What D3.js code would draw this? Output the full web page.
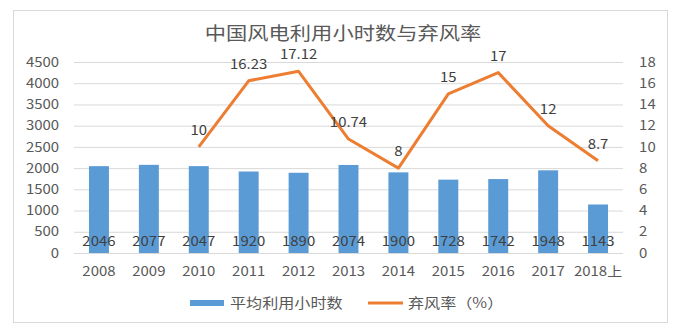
<!DOCTYPE html>
<html>
<head>
<meta charset="utf-8">
<script src="https://cdn.jsdelivr.net/npm/d3@7"></script>
<style>
  html, body { margin: 0; padding: 0; background: #fff; }
  svg text { font-family: "Noto Sans CJK SC", "Liberation Sans", sans-serif; }
</style>
</head>
<body>
<svg id="chart" width="680" height="330"></svg>
<script>
// Years on the category axis
const years = ["2008", "2009", "2010", "2011", "2012", "2013", "2014", "2015", "2016", "2017", "2018上"];
// Average utilisation hours (left axis)
const hours = [2046, 2077, 2047, 1920, 1890, 2074, 1900, 1728, 1742, 1948, 1143];
// Curtailment rate in % (right axis); no figure for 2008–2009
const curtail = [null, null, 10, 16.23, 17.12, 10.74, 8, 15, 17, 12, 8.7];
// Axis ticks
const leftTicks = [0, 500, 1000, 1500, 2000, 2500, 3000, 3500, 4000, 4500];
const rightTicks = [0, 2, 4, 6, 8, 10, 12, 14, 16, 18];

const title = "中国风电利用小时数与弃风率";
const legendBar = "平均利用小时数";
const legendLine = "弃风率（%）";

const blue = "#5B9BD5", orange = "#ED7D31";
const grid = "#d9d9d9", axisText = "#595959", labelText = "#404040";
const sx = 1.15; // horizontal text stretch

const svg = d3.select("#chart");
const plot = { left: 74, right: 623, top: 62, bottom: 253 };

// frame
svg.append("rect")
  .attr("x", 13.5).attr("y", 10.5).attr("width", 654).attr("height", 312)
  .attr("fill", "#fff").attr("stroke", grid);

const x = d3.scaleBand().domain(years).range([plot.left, plot.right])
  .paddingInner(0.6).paddingOuter(0.3);
const yL = d3.scaleLinear().domain([0, 4500]).range([plot.bottom, plot.top]);
const yR = d3.scaleLinear().domain([0, 18]).range([plot.bottom, plot.top]);

function stretchText(sel) {
  sel.attr("transform", `scale(${sx},1)`);
}

// left axis with gridlines
const gL = svg.append("g").attr("transform", `translate(${plot.left},0)`)
  .call(d3.axisLeft(yL).tickValues(leftTicks).tickFormat(d3.format("d"))
    .tickSize(-(plot.right - plot.left)).tickPadding(13));
gL.select(".domain").remove();
gL.selectAll(".tick line").attr("stroke", grid).attr("stroke-width", 1);
gL.selectAll(".tick text").attr("fill", axisText).attr("font-size", 13).call(stretchText);

// right axis
const gR = svg.append("g").attr("transform", `translate(${plot.right},0)`)
  .call(d3.axisRight(yR).tickValues(rightTicks).tickFormat(d3.format("d"))
    .tickSize(0).tickPadding(14));
gR.select(".domain").remove();
gR.selectAll(".tick text").attr("fill", axisText).attr("font-size", 13).call(stretchText);

// bottom axis labels
const gB = svg.append("g").attr("transform", `translate(0,${plot.bottom})`)
  .call(d3.axisBottom(x).tickSize(0).tickPadding(14));
gB.select(".domain").remove();
gB.selectAll(".tick text").attr("fill", axisText).attr("font-size", 13).call(stretchText);

// bars
svg.append("g").selectAll("rect").data(years).join("rect")
  .attr("x", d => x(d))
  .attr("width", x.bandwidth())
  .attr("y", (d, i) => yL(hours[i]))
  .attr("height", (d, i) => yL(0) - yL(hours[i]))
  .attr("fill", blue);

// bar value labels at the base
svg.append("g").selectAll("text").data(years).join("text")
  .attr("transform", d => `translate(${x(d) + x.bandwidth() / 2},${plot.bottom - 7}) scale(${sx},1)`)
  .attr("text-anchor", "middle")
  .attr("font-size", 13).attr("fill", labelText)
  .text((d, i) => hours[i]);

// curtailment line
const pts = years.map((d, i) => ({ year: d, v: curtail[i] })).filter(p => p.v != null);
const line = d3.line().x(p => x(p.year) + x.bandwidth() / 2).y(p => yR(p.v));
svg.append("path").datum(pts)
  .attr("d", line).attr("fill", "none")
  .attr("stroke", orange).attr("stroke-width", 3)
  .attr("stroke-linejoin", "round");

svg.append("g").selectAll("text").data(pts).join("text")
  .attr("transform", p => `translate(${x(p.year) + x.bandwidth() / 2},${yR(p.v) - 12}) scale(${sx},1)`)
  .attr("text-anchor", "middle")
  .attr("font-size", 13).attr("fill", labelText)
  .text(p => p.v);

// title
svg.append("text")
  .attr("transform", `translate(343,40) scale(${sx},1)`)
  .attr("text-anchor", "middle")
  .attr("font-size", 18.5).attr("fill", axisText)
  .text(title);

// legend
const lg = svg.append("g");
lg.append("rect").attr("x", 190).attr("y", 300).attr("width", 34).attr("height", 6).attr("fill", blue);
lg.append("text").attr("transform", `translate(230,308) scale(${sx},1)`)
  .attr("font-size", 14).attr("fill", axisText).text(legendBar);
lg.append("line").attr("x1", 368).attr("x2", 403).attr("y1", 303).attr("y2", 303)
  .attr("stroke", orange).attr("stroke-width", 3);
lg.append("text").attr("transform", `translate(408,308) scale(${sx},1)`)
  .attr("font-size", 14).attr("fill", axisText).text(legendLine);
</script>
</body>
</html>
